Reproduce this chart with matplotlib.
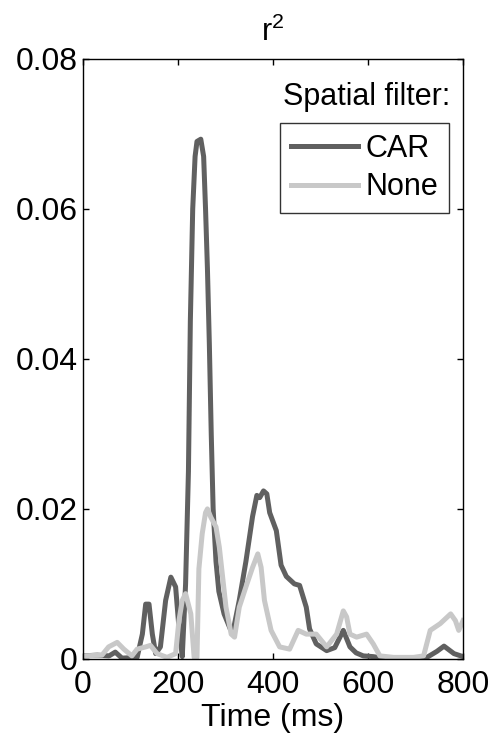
import matplotlib
matplotlib.use("Agg")
import matplotlib.pyplot as plt

# CAR spatial filter (dark trace)
car_time = [0, 30, 55, 68, 82, 114, 125, 132, 139, 146, 153, 163, 174, 185, 195,
            202, 209, 216, 222, 226, 231, 236, 240, 248, 254, 258, 262, 266, 270,
            274, 280, 286, 297, 310, 316, 329, 343, 357, 366, 372, 380, 387, 393,
            407, 417, 428, 445, 456, 470, 477, 491, 513, 530, 548, 562, 575, 590,
            611, 630, 680, 724, 745, 760, 781, 800]
car_r2 = [0.0004, 0.0005, 0.0004, 0.0009, 0.0001, 0.0002, 0.0033, 0.0073, 0.0073,
          0.0033, 0.0007, 0.0016, 0.0078, 0.0109, 0.0096, 0.0042, 0.0003, 0.0100,
          0.0250, 0.0450, 0.0600, 0.0670, 0.0690, 0.0693, 0.0670, 0.0600, 0.0520,
          0.0420, 0.0300, 0.0200, 0.0130, 0.0090, 0.0060, 0.0040, 0.0037, 0.0078,
          0.0130, 0.0190, 0.0218, 0.0215, 0.0224, 0.0220, 0.0195, 0.0171, 0.0125,
          0.0110, 0.0100, 0.0098, 0.0069, 0.0040, 0.0020, 0.0011, 0.0015, 0.0038,
          0.0016, 0.0008, 0.0004, 0.0003, 0.0001, 0.0001, 0.0002, 0.0010, 0.0017,
          0.0007, 0.0003]

# no spatial filter (light trace)
none_time = [0, 40, 54, 72, 86, 103, 114, 132, 142, 156, 177, 195, 202, 209, 216,
             227, 234, 240, 244, 251, 258, 262, 269, 280, 287, 294, 301, 312, 319,
             329, 343, 357, 368, 375, 382, 396, 414, 435, 453, 470, 491, 513, 534,
             548, 555, 562, 576, 597, 611, 625, 654, 696, 717, 731, 752, 774, 784,
             791, 800]
none_r2 = [0.0004, 0.0005, 0.0016, 0.0022, 0.0013, 0.0004, 0.0013, 0.0016, 0.0018,
           0.0007, 0.0002, 0.0007, 0.0051, 0.0078, 0.0087, 0.0060, 0.0002, 0.0002,
           0.0120, 0.0167, 0.0195, 0.0200, 0.0189, 0.0176, 0.0149, 0.0109, 0.0069,
           0.0033, 0.0029, 0.0069, 0.0096, 0.0122, 0.0140, 0.0122, 0.0078, 0.0038,
           0.0016, 0.0013, 0.0038, 0.0033, 0.0033, 0.0016, 0.0033, 0.0064, 0.0056,
           0.0033, 0.0029, 0.0033, 0.0020, 0.0004, 0.0002, 0.0002, 0.0004, 0.0038,
           0.0047, 0.0060, 0.0051, 0.0038, 0.0051]

x_ticks = [0, 200, 400, 600, 800]
y_ticks = [0, 0.02, 0.04, 0.06, 0.08]
y_tick_labels = ["0", "0.02", "0.04", "0.06", "0.08"]

plt.rcParams['font.family'] = ['Liberation Sans', 'DejaVu Sans']
plt.rcParams['mathtext.default'] = 'regular'

fig = plt.figure(figsize=(4.91, 7.37), dpi=100)
ax = fig.add_axes([0.169, 0.106, 0.774, 0.814])

ax.plot(car_time, car_r2, color='#606060', linewidth=3.6, label='CAR')
ax.plot(none_time, none_r2, color='#c8c8c8', linewidth=3.6, label='None')

ax.set_xlim(0, 800)
ax.set_ylim(0, 0.08)
ax.set_xticks(x_ticks)
ax.set_yticks(y_ticks)
ax.set_yticklabels(y_tick_labels)
ax.tick_params(direction='in', top=True, right=True, length=4, width=1,
               labelsize=23, pad=4)
ax.tick_params(axis='x', pad=8)
for s in ax.spines.values():
    s.set_linewidth(1)

ax.set_xlabel('Time (ms)', fontsize=23, labelpad=2)
ax.set_title('r$^2$', fontsize=22, pad=13)

ax.text(0.966, 0.937, 'Spatial filter:', transform=ax.transAxes,
        ha='right', va='center', fontsize=22)
leg = ax.legend(loc='upper right', bbox_to_anchor=(0.963, 0.893), fontsize=22,
                frameon=True, fancybox=False, handlelength=2.2,
                handletextpad=0.25, labelspacing=0.28, borderpad=0.35,
                borderaxespad=0.0)
leg.get_frame().set_edgecolor('black')
leg.get_frame().set_linewidth(1)

fig.savefig('out.png', dpi=100)
